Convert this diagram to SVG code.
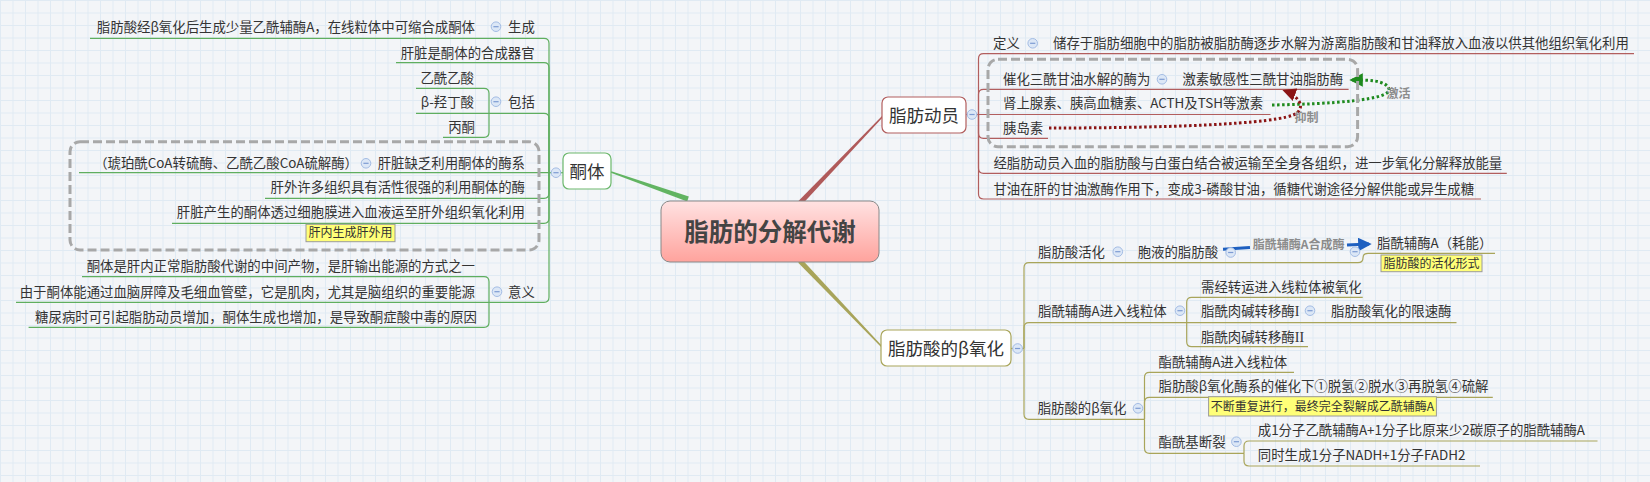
<svg xmlns="http://www.w3.org/2000/svg" width="1650" height="482" viewBox="0 0 1650 482">
<style>
.t{font-family:"Noto Sans CJK SC","Noto Sans",sans-serif;font-size:13.4px;fill:#333}
.e{text-anchor:end}
.m{font-family:"Noto Sans CJK SC","Noto Sans",sans-serif;font-size:17.5px;fill:#333;text-anchor:middle}
.y{font-family:"Noto Sans CJK SC","Noto Sans",sans-serif;font-size:12px;fill:#333;text-anchor:middle}
.r{font-family:"Noto Sans CJK SC","Noto Sans",sans-serif;font-size:12px;font-weight:bold;fill:#8c8c8c;text-anchor:middle}
.s{font-family:"Liberation Serif",serif;font-size:14px}
.g{fill:none;stroke:#5fae5f;stroke-width:1.2}
.rd{fill:none;stroke:#b25e5e;stroke-width:1.2}
.o{fill:none;stroke:#a9a55a;stroke-width:1.2}
.cb{fill:#dce7f6;stroke:#a3bce4;stroke-width:1}
.cm{stroke:#7d9bd3;stroke-width:1.2}
.bd{fill:none;stroke:#a8a8a8;stroke-width:3;stroke-dasharray:9 4}
.call{fill:#ffff78;stroke:#9a9a9a;stroke-width:1}
</style>
<defs>
<pattern id="grid" width="12.5" height="12.5" patternUnits="userSpaceOnUse">
<path d="M0 0.5 H12.5 M0.5 0 V12.5" stroke="#e0eaf3" stroke-width="1" fill="none"/>
</pattern>
<linearGradient id="cg" x1="0" y1="0" x2="0" y2="1">
<stop offset="0" stop-color="#ffe2e2"/>
<stop offset="1" stop-color="#ffa39d"/>
</linearGradient>
<marker id="agr" viewBox="0 0 10 10" refX="8" refY="5" markerWidth="4.5" markerHeight="4.5" orient="auto" markerUnits="strokeWidth">
<path d="M0 0 L10 5 L0 10 z" fill="#1e8a1e"/>
</marker>
<marker id="ard" viewBox="0 0 10 10" refX="8" refY="5" markerWidth="4.5" markerHeight="4.5" orient="auto" markerUnits="strokeWidth">
<path d="M0 0 L10 5 L0 10 z" fill="#8b1515"/>
</marker>
<marker id="abl" viewBox="0 0 10 10" refX="8" refY="5" markerWidth="4.5" markerHeight="4.5" orient="auto" markerUnits="strokeWidth">
<path d="M0 0 L10 5 L0 10 z" fill="#1f60c0"/>
</marker>
<g id="btn"><circle r="4.8" class="cb"/><path d="M-2.6 0 H2.6" class="cm"/></g>
</defs>
<rect width="1650" height="482" fill="#f3f5f8"/>
<rect width="1650" height="482" fill="url(#grid)"/>

<g id="connectors">
<polygon points="688.8,196.6 687.2,201.4 610.8,172.7 611.3,171.3" fill="#62b462"/>
<polygon points="801.8,204.7 798.2,201.3 882.5,115.5 883.5,116.5" fill="#b05a5a"/>
<polygon points="798.2,262.7 801.8,259.3 883.5,347.5 882.5,348.5" fill="#a8a45a"/>
<path class="g" d="M549,172.7 H563"/>
<path class="g" d="M549,172.7 V43.3 Q549,38.3 544,38.3 H90"/>
<path class="g" d="M549,172.7 V67.7 Q549,62.7 544,62.7 H396"/>
<path class="g" d="M549,172.7 V118.3 Q549,113.3 544,113.3 H489"/>
<path class="g" d="M489,113.3 V93.3 Q489,88.3 484,88.3 H416"/>
<path class="g" d="M489,113.3 H416"/>
<path class="g" d="M489,113.3 V132.3 Q489,137.3 484,137.3 H443"/>
<path class="g" d="M549,172.7 H79"/>
<path class="g" d="M549,172.7 V193.3 Q549,198.3 544,198.3 H265"/>
<path class="g" d="M549,172.7 V218.3 Q549,223.3 544,223.3 H172"/>
<path class="g" d="M549,172.7 V297.3 Q549,302.3 544,302.3 H489"/>
<path class="g" d="M489,302.3 V281.7 Q489,276.7 484,276.7 H82"/>
<path class="g" d="M489,302.3 H16"/>
<path class="g" d="M489,302.3 V322.3 Q489,327.3 484,327.3 H28.6"/>
<path class="rd" d="M966,114.5 H978.5"/>
<path class="rd" d="M978.5,114.5 V58.7 Q978.5,53.7 983.5,53.7 H1634"/>
<path class="rd" d="M978.5,114.5 V94.3 Q978.5,89.3 983.5,89.3 H1348.6"/>
<path class="rd" d="M978.5,114.5 H1270.5"/>
<path class="rd" d="M978.5,114.5 V133.3 Q978.5,138.3 983.5,138.3 H1048"/>
<path class="rd" d="M978.5,114.5 V168.3 Q978.5,173.3 983.5,173.3 H1506.8"/>
<path class="rd" d="M978.5,114.5 V194 Q978.5,199 983.5,199 H1481"/>
<path class="o" d="M1011,348.5 H1024"/>
<path class="o" d="M1024,348.5 V267.7 Q1024,262.7 1029,262.7 H1358 Q1363,262.7 1363,258 Q1363,253.3 1368,253.3 H1495"/>
<path class="o" d="M1024,348.5 V327.7 Q1024,322.7 1029,322.7 H1456.5"/>
<path class="o" d="M1186.7,322.7 V302.3 Q1186.7,297.3 1191.7,297.3 H1362.7"/>
<path class="o" d="M1186.7,322.7 V341.7 Q1186.7,346.7 1191.7,346.7 H1308"/>
<path class="o" d="M1024,348.5 V414.3 Q1024,419.3 1029,419.3 H1144.5"/>
<path class="o" d="M1144.5,419.3 V377.3 Q1144.5,372.3 1149.5,372.3 H1294"/>
<path class="o" d="M1144.5,419.3 V402.3 Q1144.5,397.3 1149.5,397.3 H1492.8"/>
<path class="o" d="M1144.5,419.3 V448.3 Q1144.5,453.3 1149.5,453.3 H1244"/>
<path class="o" d="M1244,453.3 V446 Q1244,441 1249,441 H1597.5"/>
<path class="o" d="M1244,453.3 V461 Q1244,466 1249,466 H1480"/>
<path d="M1272,105 C1330,104 1392,100 1389,89 C1386,80 1368,80 1352,80" fill="none" stroke="#1e8a1e" stroke-width="3" stroke-dasharray="2.5 2.5" marker-end="url(#agr)"/>
<path d="M1049,128 C1150,128 1282,125 1297,113 C1306,105 1296,95 1285,91" fill="none" stroke="#8b1515" stroke-width="3" stroke-dasharray="2.5 2.5" marker-end="url(#ard)"/>
<path d="M1223,249.3 L1250,247.5" fill="none" stroke="#1f60c0" stroke-width="3"/>
<path d="M1347,245 L1369,244" fill="none" stroke="#1f60c0" stroke-width="3" marker-end="url(#abl)"/>
</g>

<rect class="bd" x="70" y="141.7" width="469" height="108.3" rx="10"/>
<rect class="bd" x="988" y="59.3" width="369.6" height="87.4" rx="10"/>

<g id="center">
<rect x="661" y="201" width="218" height="61" rx="9" fill="url(#cg)" stroke="#888" stroke-width="1"/>
<text x="770" y="240.5" font-family="'Noto Sans CJK SC','Noto Sans',sans-serif" font-size="24.5" font-weight="bold" fill="#444" text-anchor="middle">脂肪的分解代谢</text>
</g>

<g id="n-ketone">
<rect x="563" y="153" width="48" height="36" rx="6" fill="#fff" stroke="#6cb86c" stroke-width="1.2"/>
<text class="m" x="587" y="177.5">酮体</text>
<use href="#btn" x="556" y="172.7"/>
</g>
<g id="n-shengcheng">
<text class="t e" x="475" y="31.5">脂肪酸经β氧化后生成少量乙酰辅酶A，在线粒体中可缩合成酮体</text>
<use href="#btn" x="496" y="26.7"/>
<text class="t" x="508" y="31.5">生成</text>
</g>
<g id="n-organ"><text class="t e" x="534.6" y="57.5">肝脏是酮体的合成器官</text></g>
<g id="n-baokuo">
<text class="t e" x="474" y="83.1">乙酰乙酸</text>
<text class="t e" x="474" y="106.5">β-羟丁酸</text>
<text class="t e" x="475" y="132.1">丙酮</text>
<use href="#btn" x="496" y="101.7"/>
<text class="t" x="508" y="106.5">包括</text>
</g>
<g id="n-enzyme">
<text class="t e" x="358" y="168.1">（琥珀酰CoA转硫酶、乙酰乙酸CoA硫解酶）</text>
<use href="#btn" x="366" y="163.3"/>
<text class="t e" x="525" y="168.1">肝脏缺乏利用酮体的酶系</text>
</g>
<g id="n-extra"><text class="t e" x="525" y="192.1">肝外许多组织具有活性很强的利用酮体的酶</text></g>
<g id="n-transport">
<text class="t e" x="525" y="216.5">肝脏产生的酮体透过细胞膜进入血液运至肝外组织氧化利用</text>
<rect class="call" x="306" y="224.3" width="89" height="17.4"/>
<text class="y" x="350.5" y="237.3">肝内生成肝外用</text>
</g>
<g id="n-yiyi">
<text class="t e" x="475" y="270.8">酮体是肝内正常脂肪酸代谢的中间产物，是肝输出能源的方式之一</text>
<text class="t e" x="475" y="296.5">由于酮体能通过血脑屏障及毛细血管壁，它是肌肉，尤其是脑组织的重要能源</text>
<text class="t e" x="477" y="321.5">糖尿病时可引起脂肪动员增加，酮体生成也增加，是导致酮症酸中毒的原因</text>
<use href="#btn" x="497" y="291.7"/>
<text class="t" x="508" y="296.5">意义</text>
</g>

<g id="n-mobil">
<rect x="882" y="97" width="84" height="36" rx="6" fill="#fff" stroke="#b25e5e" stroke-width="1.2"/>
<text class="m" x="924" y="121.5">脂肪动员</text>
<use href="#btn" x="972" y="114.5"/>
</g>
<g id="n-def">
<text class="t" x="993" y="48.1">定义</text>
<use href="#btn" x="1032.7" y="43.3"/>
<text class="t" x="1053" y="48.1">储存于脂肪细胞中的脂肪被脂肪酶逐步水解为游离脂肪酸和甘油释放入血液以供其他组织氧化利用</text>
</g>
<g id="n-lipase">
<text class="t" x="1003" y="84.1">催化三酰甘油水解的酶为</text>
<use href="#btn" x="1162" y="79.3"/>
<text class="t" x="1182.4" y="84.1">激素敏感性三酰甘油脂肪酶</text>
</g>
<g id="n-hormone"><text class="t" x="1003" y="108.1">肾上腺素、胰高血糖素、ACTH及TSH等激素</text></g>
<g id="n-insulin"><text class="t" x="1003" y="133.1">胰岛素</text></g>
<text class="r" x="1398.5" y="98.3">激活</text>
<text class="r" x="1306.5" y="122.3">抑制</text>
<g id="n-fa"><text class="t" x="993.4" y="168.1">经脂肪动员入血的脂肪酸与白蛋白结合被运输至全身各组织，进一步氧化分解释放能量</text></g>
<g id="n-glycerol"><text class="t" x="993.4" y="193.8">甘油在肝的甘油激酶作用下，变成3-磷酸甘油，循糖代谢途径分解供能或异生成糖</text></g>

<g id="n-beta">
<rect x="881" y="330" width="130" height="36" rx="6" fill="#fff" stroke="#a9a55a" stroke-width="1.2"/>
<text class="m" x="946" y="354.5">脂肪酸的β氧化</text>
<use href="#btn" x="1017.6" y="348.5"/>
</g>
<g id="n-activ">
<text class="t" x="1038" y="256.5">脂肪酸活化</text>
<use href="#btn" x="1117.8" y="251.7"/>
<text class="t" x="1137.7" y="256.5">胞液的脂肪酸</text>
<use href="#btn" x="1230.7" y="252.5"/>
<use href="#btn" x="1355" y="251.7"/>
<text class="t" x="1377" y="248.1">脂酰辅酶A（耗能）</text>
<rect class="call" x="1381" y="255" width="101" height="16.7"/>
<text class="y" x="1431.5" y="267.6">脂肪酸的活化形式</text>
<text class="r" x="1298.6" y="249.3">脂酰辅酶A合成酶</text>
</g>
<g id="n-enter">
<text class="t" x="1201" y="291.5">需经转运进入线粒体被氧化</text>
<text class="t" x="1038" y="315.5">脂酰辅酶A进入线粒体</text>
<use href="#btn" x="1180" y="310.7"/>
<text class="t" x="1201" y="315.5">脂酰肉碱转移酶<tspan class="s">I</tspan></text>
<use href="#btn" x="1310" y="310.7"/>
<text class="t" x="1331" y="315.5">脂肪酸氧化的限速酶</text>
<text class="t" x="1201" y="341.5">脂酰肉碱转移酶<tspan class="s">II</tspan></text>
</g>
<g id="n-betasub">
<text class="t" x="1158.6" y="366.5">酯酰辅酶A进入线粒体</text>
<text class="t" x="1158.6" y="390.8">脂肪酸β氧化酶系的催化下①脱氢②脱水③再脱氢④硫解</text>
<rect class="call" x="1208.6" y="396.7" width="227.8" height="19.3"/>
<text class="y" x="1322.5" y="410.6">不断重复进行，最终完全裂解成乙酰辅酶A</text>
<text class="t" x="1037.7" y="413.1">脂肪酸的β氧化</text>
<use href="#btn" x="1138" y="408.3"/>
<text class="t" x="1158.6" y="446.5">酯酰基断裂</text>
<use href="#btn" x="1236.4" y="441.7"/>
<text class="t" x="1257.8" y="434.8">成1分子乙酰辅酶A+1分子比原来少2碳原子的脂酰辅酶A</text>
<text class="t" x="1257.8" y="459.8">同时生成1分子NADH+1分子FADH2</text>
</g>
</svg>
